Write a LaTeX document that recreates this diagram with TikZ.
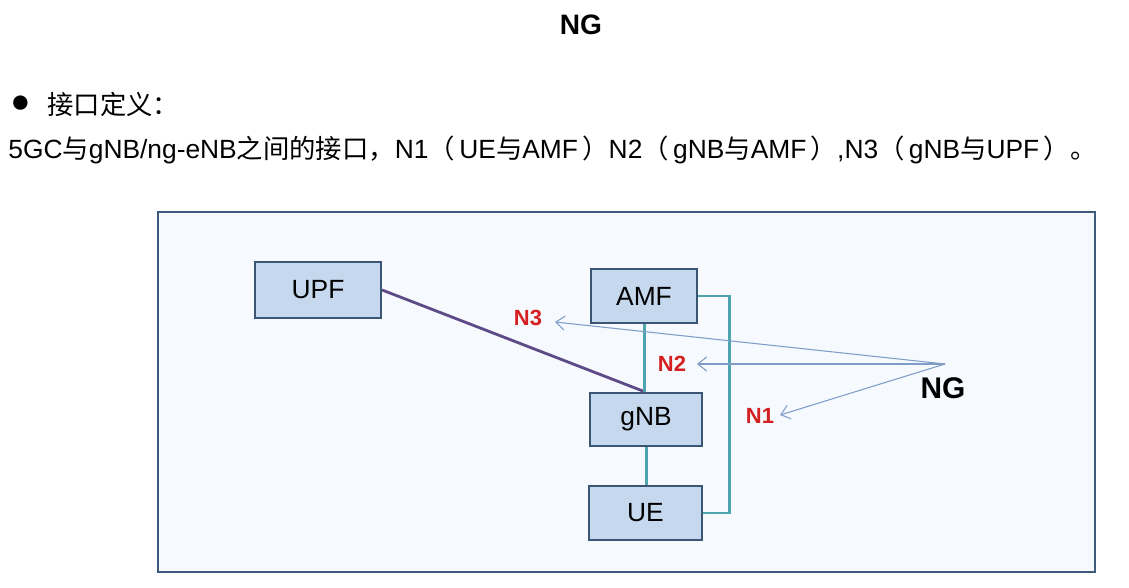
\documentclass[tikz,border=0pt]{standalone}
\usepackage{fontspec}
\setmainfont{Liberation Sans}
\newfontfamily\cjk{Noto Sans CJK SC}
\usetikzlibrary{arrows.meta}
\definecolor{frameblue}{HTML}{3E5A7C}
\definecolor{framefill}{HTML}{F6F9FD}
\definecolor{boxfill}{HTML}{C5D8EE}
\definecolor{boxdraw}{HTML}{3A5674}
\definecolor{teal}{HTML}{4FA5AE}
\definecolor{purpleline}{HTML}{5E4A86}
\definecolor{ngarrow}{HTML}{7E9DC8}
\definecolor{nred}{HTML}{D42020}
\newcommand{\lp}{{\cjk （}\,}
\newcommand{\rp}{\,{\cjk ）}}
\tikzset{
  netbox/.style={draw=boxdraw, line width=1.3pt, fill=boxfill, inner sep=0pt, font=\fontsize{15}{17}\selectfont},
  tealline/.style={draw=teal, line width=1.7pt},
  ngline/.style={draw=ngarrow, line width=0.6pt, -{Straight Barb[length=5pt,width=8pt]}},
  nlabel/.style={text=nred, font=\bfseries\fontsize{12.5}{14}\selectfont, inner sep=1pt},
  bodytext/.style={anchor=west, inner sep=0pt, font=\fontsize{15}{17}\selectfont}
}
\begin{document}
\begin{tikzpicture}[x=0.02cm,y=-0.02cm]
\useasboundingbox (0,0) rectangle (1129,588);
\fill[white] (0,0) rectangle (1129,588);
% title
\node[font=\bfseries\fontsize{16}{18}\selectfont] (title) at (581,25) {NG};
% text
\node[bodytext] (bullet) at (10,104) {\fontsize{19}{19}\selectfont ●};
\node[bodytext] (def) at (47,104) {\cjk 接口定义：};
\node[bodytext] (line2) at (8,150) {5GC{\cjk 与}gNB/ng-eNB{\cjk 之间的接口，}N1\lp UE{\cjk 与}AMF\rp N2\lp gNB{\cjk 与}AMF\rp,N3\lp gNB{\cjk 与}UPF\rp{\cjk 。}};
% frame
\node[draw=frameblue, line width=1.5pt, fill=framefill, minimum width=937*0.02cm, minimum height=360*0.02cm, inner sep=0pt] (frame) at (626.5,392) {};
% boxes
\node[netbox, minimum width=126*0.02cm, minimum height=56*0.02cm] (upf) at (318,290) {UPF};
\node[netbox, minimum width=106*0.02cm, minimum height=54*0.02cm] (amf) at (644,296) {AMF};
\node[netbox, minimum width=112*0.02cm, minimum height=53*0.02cm] (gnb) at (646,419.5) {gNB};
\node[netbox, minimum width=113*0.02cm, minimum height=54*0.02cm] (ue) at (645.5,513) {UE};
% connectors
\draw[draw=purpleline, line width=1.6pt] (upf.east) -- ([xshift=-1*0.02cm]gnb.north);
\draw[tealline] (amf.south) -- (amf.south |- gnb.north);
\draw[tealline] (gnb.south) -- (gnb.south |- ue.north);
\draw[tealline] (amf.east) -- ++(31,0) |- (ue.east);
% labels
\node[nlabel] (n3) at (528,318) {N3};
\node[nlabel] (n2) at (672,364) {N2};
\node[nlabel] (n1) at (760,416) {N1};
\node[font=\bfseries\fontsize{17}{19}\selectfont] (ng) at (943,388) {NG};
\coordinate (ngsrc) at (945,364);
\draw[ngline] (ngsrc) -- (555,322);
\draw[ngline] (ngsrc) -- (697,364);
\draw[ngline] (ngsrc) -- (780,415);
\end{tikzpicture}
\end{document}
